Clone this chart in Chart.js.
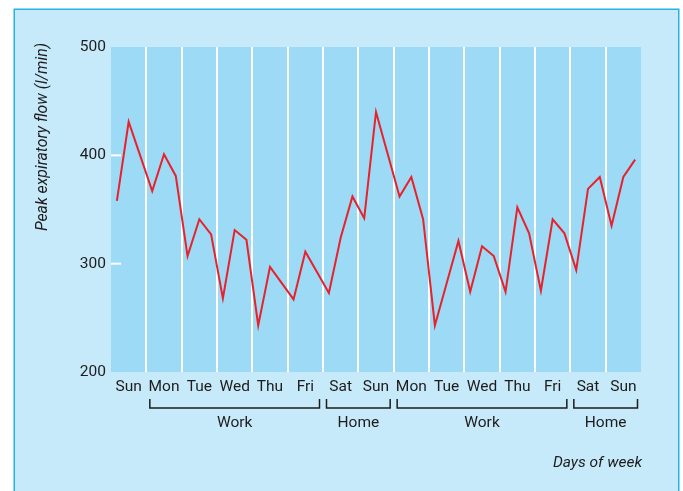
<!DOCTYPE html>
<html><head><meta charset="utf-8">
<script src="https://cdn.jsdelivr.net/npm/chart.js@4"></script>
<style>html,body{margin:0;padding:0;background:#fff;}#wrap{width:683px;height:491px;}</style>
</head><body><div id="wrap"><canvas id="c" width="683" height="491"></canvas></div>
<script>
const dayLabels = ['Sun','Mon','Tue','Wed','Thu','Fri','Sat','Sun','Mon','Tue','Wed','Thu','Fri','Sat','Sun'];
const readingsPerDay = 3;
const pef = [358,431,399, 367,401,381, 307,341,327, 268,331,322, 243,297,282,
             267,311,292, 273,324,362, 342,440,401, 362,380,341, 243,282,321,
             274,316,307, 274,352,328, 275,341,328, 294,369,380, 335,380,396];
const yTicks = [200,300,400,500];
const groupLabels = ['Work','Home','Work','Home'];
const groupStart = [1,6,8,13];
const groupEnd = [6,8,13,15];
const yTitle = 'Peak expiratory flow (l/min)';
const xTitle = 'Days of week';

const FONT = 'Roboto, "Liberation Sans", sans-serif';
const FS = 15.5;
const TXT = '#1e1c1d';

const points = pef.map((v,i)=>({x:(i+0.5)/readingsPerDay, y:v}));

const decor = {
  id:'decor',
  beforeDraw(chart){
    const ctx = chart.ctx, a = chart.chartArea;
    ctx.save();
    ctx.fillStyle='#ffffff'; ctx.fillRect(0,0,chart.width,chart.height);
    ctx.fillStyle='#c7eafa'; ctx.fillRect(14,9,665,chart.height);
    ctx.strokeStyle='#25b2e8'; ctx.lineWidth=1.5; ctx.strokeRect(14.25,9.25,664.5,chart.height+5);
    ctx.fillStyle='#9ddaf6'; ctx.fillRect(a.left,a.top,a.right-a.left,a.bottom-a.top);
    ctx.restore();
  },
  beforeDatasetsDraw(chart){
    const ctx = chart.ctx, a = chart.chartArea, y = chart.scales.y;
    ctx.save();
    ctx.strokeStyle='#ffffff'; ctx.lineWidth=2;
    yTicks.forEach(v=>{ if(v>y.min && v<y.max){ const py=y.getPixelForValue(v); ctx.beginPath(); ctx.moveTo(a.left,py); ctx.lineTo(a.left+10,py); ctx.stroke(); }});
    ctx.restore();
  },
  afterDraw(chart){
    const ctx = chart.ctx, a = chart.chartArea, x = chart.scales.x;
    ctx.save();
    ctx.strokeStyle=TXT; ctx.lineWidth=1.5; ctx.fillStyle=TXT;
    ctx.font=FS+'px '+FONT; ctx.textAlign='center'; ctx.textBaseline='middle';
    groupLabels.forEach((g,i)=>{
      const x1=x.getPixelForValue(groupStart[i])+3.5, x2=x.getPixelForValue(groupEnd[i])-3.5;
      ctx.beginPath(); ctx.moveTo(x1,399); ctx.lineTo(x1,408); ctx.lineTo(x2,408); ctx.lineTo(x2,399); ctx.stroke();
      ctx.fillText(g,(x1+x2)/2,423.5);
    });
    ctx.font='italic '+FS+'px '+FONT; ctx.textAlign='right';
    ctx.fillText(xTitle,a.right+1,463.5);
    ctx.font='italic 15.8px '+FONT;
    ctx.translate(43,43); ctx.rotate(-Math.PI/2);
    ctx.textAlign='right'; ctx.fillText(yTitle,0,0);
    ctx.restore();
  }
};

new Chart(document.getElementById('c'),{
  type:'line',
  data:{datasets:[{data:points, borderColor:'#e8212b', borderWidth:2, pointRadius:0, tension:0, fill:false}]},
  options:{
    responsive:false, animation:false,
    layout:{padding:{left:0,top:47,right:42,bottom:0}},
    plugins:{legend:{display:false},tooltip:{enabled:false}},
    scales:{
      x:{type:'linear',min:0,max:15,position:'bottom',
         ticks:{display:false,stepSize:1},
         grid:{color:(c)=>(c.tick && c.tick.value>0 && c.tick.value<15)?'#ffffff':'rgba(0,0,0,0)',lineWidth:2,drawTicks:false},
         border:{display:false},
         afterFit:(s)=>{s.height=0;}},
      xl:{type:'linear',min:0,max:15,position:'bottom',
         afterBuildTicks:(s)=>{s.ticks=dayLabels.map((d,i)=>({value:i+0.5}));},
         ticks:{callback:(v,i)=>dayLabels[i],autoSkip:false,maxRotation:0,minRotation:0,padding:6,color:TXT,font:{family:FONT,size:FS}},
         grid:{display:false,drawTicks:false},border:{display:false},
         afterFit:(s)=>{s.height=119;}},
      y:{min:200,max:500,
         afterBuildTicks:(s)=>{s.ticks=yTicks.map(v=>({value:v}));},
         ticks:{padding:5,color:TXT,font:{family:FONT,size:FS}},
         grid:{display:false,drawTicks:false},border:{display:false},
         afterFit:(s)=>{s.width=111;}}
    }
  },
  plugins:[decor]
});
</script></body></html>
